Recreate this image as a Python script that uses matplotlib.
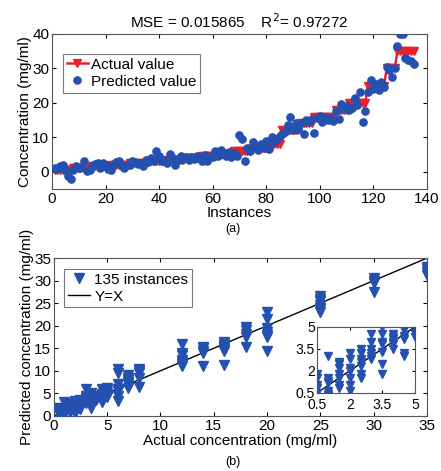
import matplotlib
matplotlib.use("Agg")
import matplotlib.pyplot as plt
import numpy as np

plt.rcParams['font.family'] = ['Liberation Sans', 'DejaVu Sans']

# ---- data ----
actual_groups = [0.5, 1, 1.5, 2, 2.5, 3, 3.5, 4, 4.5, 5, 6, 7, 8, 12, 14, 16, 18, 20, 25, 30, 35]
group_counts = [7, 7, 7, 7, 7, 7, 7, 6, 6, 6, 7, 6, 5, 7, 5, 8, 5, 7, 7, 4, 7]
predicted = [
    1.0, 0.8, 1.5, 1.8, 0.5, -1.2, -2.0,          # 0.5
    0.4, 1.5, 1.2, 1.3, 3.0, 0.3, 0.6,            # 1
    1.5, 2.2, 2.5, 1.0, 2.6, 1.8, 0.8,            # 1.5
    0.6, 2.2, 2.8, 3.2, 1.5, 1.0, 2.0,            # 2
    1.8, 3.2, 2.8, 2.3, 2.6, 1.5, 3.5,            # 2.5
    2.8, 4.0, 3.0, 6.0, 4.5, 3.2, 3.5,            # 3
    2.5, 5.0, 4.0, 1.8, 3.3, 4.5, 3.8,            # 3.5
    4.2, 3.5, 4.3, 3.8, 4.5, 4.0,                 # 4
    3.2, 4.8, 3.0, 4.2, 4.4, 6.0,                 # 4.5
    4.5, 6.2, 5.0, 4.6, 5.8, 4.3,                 # 5
    5.5, 4.5, 10.5, 9.5, 3.2, 7.0, 6.0,           # 6
    8.5, 7.5, 6.2, 8.0, 7.0, 9.0,                 # 7
    6.5, 10.0, 8.5, 9.5, 10.3,                    # 8
    11.0, 11.5, 13.5, 16.0, 12.0, 14.0, 12.5,     # 12
    14.0, 11.0, 15.0, 14.5, 15.3,                 # 14
    11.3, 15.5, 16.3, 14.5, 16.0, 15.0, 15.5, 14.8,  # 16
    17.5, 15.3, 19.7, 18.2, 19.0,                 # 18
    18.0, 18.5, 21.5, 19.5, 23.0, 14.5, 17.5,     # 20
    23.0, 26.5, 24.0, 25.5, 23.8, 26.0, 24.5,     # 25
    30.5, 29.5, 27.5, 30.0,                       # 30
    36.5, 40.0, 40.0, 33.0, 32.5, 32.0, 31.3,     # 35
]
actual = np.repeat(actual_groups, group_counts)
instances = np.arange(1, len(actual) + 1)

title_text = "MSE = 0.015865    R$^2$= 0.97272"

red = "#e8212b"
blue = "#2450b0"

fig = plt.figure(figsize=(4.41, 4.71), dpi=100)

# ---- (a) ----
ax1 = fig.add_axes([0.118, 0.599, 0.850, 0.329])
ax1.plot(instances, actual, '-v', color=red, ms=5.5, lw=1.8, label='Actual value', zorder=2)
ax1.plot(instances, predicted, 'o', color=blue, ms=5.2, label='Predicted value', zorder=3, mec=blue)
ax1.set_xlim(0, 140)
ax1.set_ylim(-5, 40)
ax1.set_xticks(np.arange(0, 141, 20))
ax1.set_yticks([0, 10, 20, 30, 40])
ax1.tick_params(direction='in', length=3, labelsize=11, top=True, right=True, pad=2)
ax1.set_xlabel('Instances', fontsize=11, labelpad=0)
ax1.set_ylabel('Concentration (mg/ml)', fontsize=11, labelpad=0)
ax1.set_title(title_text, fontsize=11, pad=4)
leg1 = ax1.legend(loc='upper left', fontsize=11, frameon=True, fancybox=False,
                  edgecolor='#555555', borderpad=0.25, handlelength=1.4,
                  handletextpad=0.2, labelspacing=0.2, borderaxespad=0.7,
                  bbox_to_anchor=(0.0, 0.94))
leg1.get_frame().set_linewidth(0.8)
fig.text(0.528, 0.513, '(a)', ha='center', va='center', fontsize=9)

# ---- (b) ----
ax2 = fig.add_axes([0.122, 0.117, 0.846, 0.335])
ax2.plot(actual, predicted, 'v', color=blue, ms=6.5, label='135 instances', zorder=3)
ax2.plot([0, 35], [0, 35], '-', color='black', lw=1, label='Y=X', zorder=2)
ax2.set_xlim(0, 35)
ax2.set_ylim(0, 35)
ax2.set_xticks(np.arange(0, 36, 5))
ax2.set_yticks(np.arange(0, 36, 5))
ax2.tick_params(direction='in', length=3, labelsize=11, top=True, right=True, pad=2)
ax2.set_xlabel('Actual concentration (mg/ml)', fontsize=11, labelpad=1)
ax2.set_ylabel('Predicted concentration (mg/ml)', fontsize=11, labelpad=0)
leg2 = ax2.legend(loc='upper left', fontsize=11, frameon=True, fancybox=False,
                  edgecolor='#555555', borderpad=0.25, handlelength=1.4,
                  handletextpad=0.3, labelspacing=0.2, borderaxespad=0.7)
leg2.get_frame().set_linewidth(0.8)
fig.text(0.528, 0.019, '(b)', ha='center', va='center', fontsize=9)

# inset
ax3 = fig.add_axes([0.719, 0.166, 0.222, 0.140])
ax3.plot(actual, predicted, 'v', color=blue, ms=5.5, zorder=3)
ax3.plot([0.5, 5], [0.5, 5], '-', color='black', lw=1, zorder=2)
ax3.set_xlim(0.5, 5)
ax3.set_ylim(0.5, 5)
ax3.set_xticks([0.5, 2, 3.5, 5])
ax3.set_yticks([0.5, 2, 3.5, 5])
ax3.set_xticklabels(['0.5', '2', '3.5', '5'])
ax3.set_yticklabels(['0.5', '2', '3.5', '5'])
ax3.tick_params(direction='in', length=2, labelsize=10, top=True, right=True)
ax3.tick_params(axis='x', pad=4)
ax3.tick_params(axis='y', pad=1.5)

for ax in (ax1, ax2, ax3):
    for s in ax.spines.values():
        s.set_color('#555555')
        s.set_linewidth(0.8)

fig.savefig('out.png', dpi=100)
